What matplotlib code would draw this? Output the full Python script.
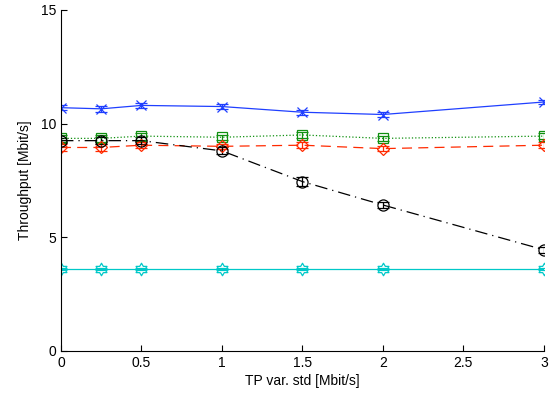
import matplotlib
matplotlib.use("Agg")
import matplotlib.pyplot as plt
import numpy as np
from matplotlib.path import Path

plt.rcParams['font.family'] = ['Liberation Sans', 'DejaVu Sans']

x = [0, 0.25, 0.5, 1, 1.5, 2, 3]
blue = [10.7, 10.65, 10.8, 10.75, 10.5, 10.4, 10.95]
blue_err = [0.12, 0.12, 0.12, 0.1, 0.12, 0.12, 0.1]
green = [9.35, 9.35, 9.45, 9.4, 9.5, 9.35, 9.45]
green_err = [0.15, 0.15, 0.15, 0.1, 0.12, 0.12, 0.12]
red = [8.95, 8.95, 9.05, 9.0, 9.05, 8.9, 9.05]
red_err = [0.15, 0.15, 0.12, 0.12, 0.12, 0.12, 0.12]
black = [9.25, 9.25, 9.25, 8.8, 7.45, 6.42, 4.45]
black_err = [0.1, 0.15, 0.15, 0.15, 0.2, 0.15, 0.12]
cyan = [3.6, 3.6, 3.6, 3.6, 3.6, 3.6, 3.6]
cyan_err = [0.05, 0.05, 0.05, 0.05, 0.05, 0.05, 0.05]

xticks = [0, 0.5, 1, 1.5, 2, 2.5, 3]
yticks = [0, 5, 10, 15]

# hexagram marker (Star of David outline)
ang = np.pi / 2 + np.arange(12) * np.pi / 6
rad = np.where(np.arange(12) % 2 == 0, 1.0, 1 / np.sqrt(3))
verts = np.column_stack([rad * np.cos(ang), rad * np.sin(ang)])
verts = np.vstack([verts, verts[:1]])
hexagram = Path(verts, [Path.MOVETO] + [Path.LINETO] * 11 + [Path.CLOSEPOLY])

fig = plt.figure(figsize=(5.59, 3.97), dpi=100)
ax = fig.add_axes([0.109, 0.116, 0.864, 0.859])

series = [
    (blue, blue_err, '#1f3fff', '-', 'x', 7),
    (green, green_err, '#109010', ':', 's', 7),
    (red, red_err, '#ff2a00', (0, (8, 5)), 'D', 6.5),
    (black, black_err, 'black', (0, (10, 4, 1, 4)), 'o', 8),
    (cyan, cyan_err, '#00c8c8', '-', hexagram, 9),
]
for y, e, c, ls, m, ms in series:
    ax.errorbar(x, y, yerr=e, color=c, linestyle=ls, linewidth=0.9,
                marker=m, markersize=ms, markerfacecolor='none',
                markeredgecolor=c, markeredgewidth=0.9, capsize=4, elinewidth=0.9)

ax.set_xlim(0, 3)
ax.set_ylim(0, 15)
ax.set_xticks(xticks)
ax.set_xticklabels([f"{t:g}" for t in xticks])
ax.set_yticks(yticks)
ax.spines['top'].set_visible(False)
ax.spines['right'].set_visible(False)
ax.tick_params(direction='in', length=4, labelsize=10, width=0.8)
ax.set_xlabel('TP var. std [Mbit/s]', fontsize=10, labelpad=3)
ax.set_ylabel('Throughput [Mbit/s]', fontsize=10, labelpad=6)

fig.savefig('out.png', dpi=100)
